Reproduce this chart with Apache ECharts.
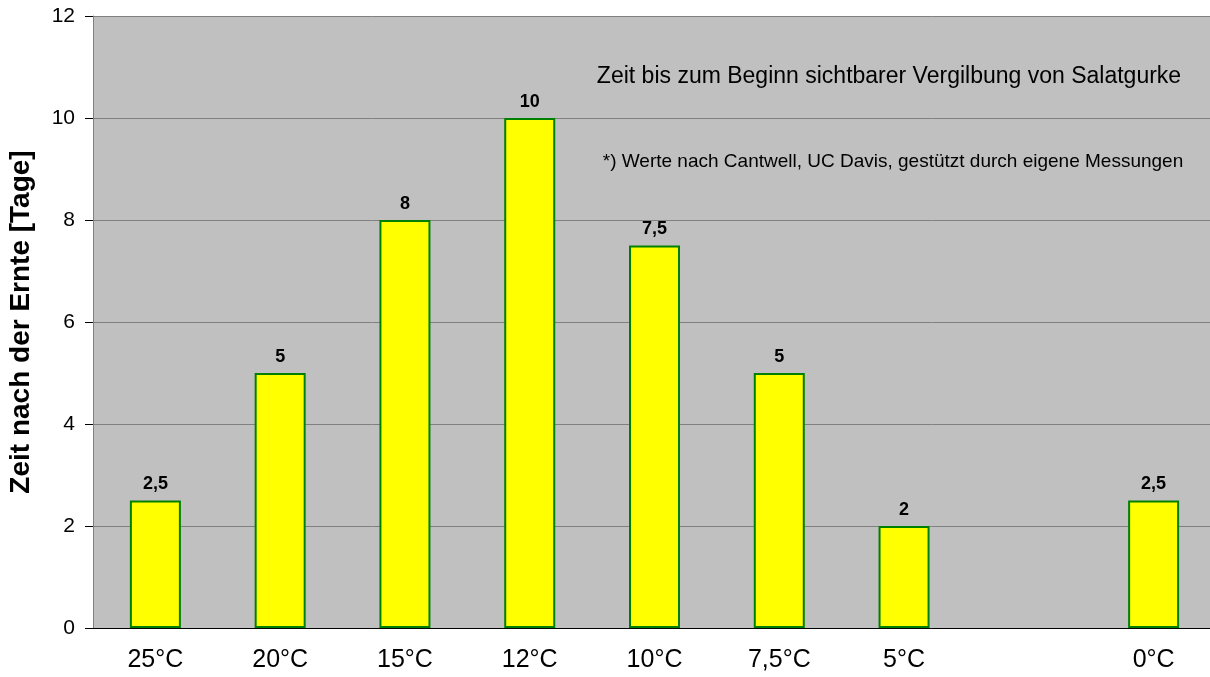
<!DOCTYPE html>
<html>
<head>
<meta charset="utf-8">
<script src="https://cdn.jsdelivr.net/npm/echarts@6/dist/echarts.min.js"></script>
<style>
  html, body { margin: 0; padding: 0; background: #fff; }
  #main { width: 1210px; height: 677px; }
</style>
</head>
<body>
<div id="main"></div>
<script>
// Kategorien (Lagertemperatur), leerer Platz zwischen 5°C und 0°C
const temps = ['25°C', '20°C', '15°C', '12°C', '10°C', '7,5°C', '5°C', '', '0°C']
// Tage bis zur sichtbaren Vergilbung
const tage = [2.5, 5, 8, 10, 7.5, 5, 2, null, 2.5]
const yTicks = [0, 2, 4, 6, 8, 10, 12]

const titel = 'Zeit bis zum Beginn sichtbarer Vergilbung von Salatgurke'
const fussnote = '*) Werte nach Cantwell, UC Davis, gestützt durch eigene Messungen'

var myChart = echarts.init(document.getElementById('main'))

var option = {
    animation: false,
    textStyle: { fontFamily: 'Liberation Sans, Arial, sans-serif' },
    title: [
        {
            text: titel,
            left: 884, top: 60, textAlign: 'center',
            textStyle: { fontSize: 23, fontWeight: 'normal', color: '#000' }
        },
        {
            text: fussnote,
            left: 888, top: 147, textAlign: 'center',
            textStyle: { fontSize: 19, fontWeight: 'normal', color: '#000' }
        }
    ],
    grid: {
        left: 93, width: 1123, top: 16, bottom: 49,
        outerBoundsMode: 'none',
        show: true, backgroundColor: '#c0c0c0', borderWidth: 0
    },
    xAxis: {
        type: 'category',
        data: temps,
        axisTick: { show: false },
        axisLine: { lineStyle: { color: '#000', width: 1 } },
        axisLabel: { fontSize: 25, color: '#000', margin: 20 }
    },
    yAxis: {
        type: 'value',
        min: yTicks[0], max: yTicks[yTicks.length - 1], interval: 2,
        name: 'Zeit nach der Ernte [Tage]',
        nameLocation: 'middle',
        nameGap: 58,
        nameTextStyle: { fontSize: 28, fontWeight: 'bold', color: '#000' },
        axisLine: { show: true, lineStyle: { color: '#808080' } },
        axisTick: { show: true, inside: false, length: 8, lineStyle: { color: '#000' } },
        axisLabel: { fontSize: 21, color: '#000', margin: 18 },
        splitLine: { lineStyle: { color: '#808080', width: 1 } }
    },
    series: [
        {
            type: 'bar',
            data: tage,
            barWidth: 51,
            itemStyle: { color: '#ffff00', borderColor: '#008000', borderWidth: 2 },
            label: {
                show: true, position: 'top', distance: 7,
                fontSize: 18, fontWeight: 'bold', color: '#000',
                formatter: p => String(p.value).replace('.', ',')
            }
        }
    ]
}

myChart.setOption(option)
</script>
</body>
</html>
